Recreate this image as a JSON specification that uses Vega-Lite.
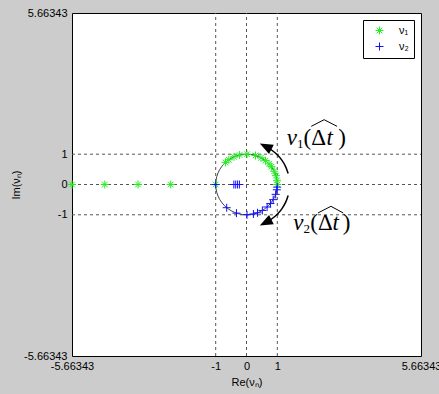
{
  "$schema": "https://vega.github.io/schema/vega-lite/v6.json",
  "width": 349,
  "height": 343,
  "autosize": {"type": "none"},
  "padding": {"left": 72, "top": 13, "right": 18, "bottom": 38},
  "background": "#cccccc",
  "config": {
    "view": {"fill": "white", "stroke": "black", "strokeWidth": 1},
    "font": "Liberation Sans"
  },
  "datasets": {
    "pts": [
      {"series": "ν₁", "x": -5.66343, "y": 0},
      {"series": "ν₁", "x": -4.6, "y": 0},
      {"series": "ν₁", "x": -3.52, "y": 0},
      {"series": "ν₁", "x": -2.46, "y": 0},
      {"series": "ν₁", "x": -1, "y": 0},
      {"series": "ν₁", "x": -0.682, "y": 0.731},
      {"series": "ν₁", "x": -0.574, "y": 0.819},
      {"series": "ν₁", "x": -0.407, "y": 0.914},
      {"series": "ν₁", "x": -0.225, "y": 0.974},
      {"series": "ν₁", "x": 0.017, "y": 1.0},
      {"series": "ν₁", "x": 0.292, "y": 0.956},
      {"series": "ν₁", "x": 0.469, "y": 0.883},
      {"series": "ν₁", "x": 0.616, "y": 0.788},
      {"series": "ν₁", "x": 0.731, "y": 0.682},
      {"series": "ν₁", "x": 0.809, "y": 0.588},
      {"series": "ν₁", "x": 0.899, "y": 0.438},
      {"series": "ν₁", "x": 0.956, "y": 0.292},
      {"series": "ν₁", "x": 0.990, "y": 0.139},
      {"series": "ν₁", "x": 1.0, "y": 0},
      {"series": "ν₂", "x": -1, "y": 0},
      {"series": "ν₂", "x": -0.41, "y": 0},
      {"series": "ν₂", "x": -0.35, "y": 0},
      {"series": "ν₂", "x": -0.29, "y": 0},
      {"series": "ν₂", "x": -0.23, "y": 0},
      {"series": "ν₂", "x": -0.643, "y": -0.766},
      {"series": "ν₂", "x": -0.326, "y": -0.946},
      {"series": "ν₂", "x": 0.017, "y": -1.0},
      {"series": "ν₂", "x": 0.225, "y": -0.974},
      {"series": "ν₂", "x": 0.358, "y": -0.934},
      {"series": "ν₂", "x": 0.515, "y": -0.857},
      {"series": "ν₂", "x": 0.669, "y": -0.743},
      {"series": "ν₂", "x": 0.777, "y": -0.629},
      {"series": "ν₂", "x": 0.866, "y": -0.5},
      {"series": "ν₂", "x": 0.946, "y": -0.326},
      {"series": "ν₂", "x": 0.985, "y": -0.174},
      {"series": "ν₂", "x": 0.996, "y": -0.087}
    ],
    "circle": [
      {"i": 0, "x": 1, "y": 0},
      {"i": 1, "x": 0.966, "y": 0.259},
      {"i": 2, "x": 0.866, "y": 0.5},
      {"i": 3, "x": 0.707, "y": 0.707},
      {"i": 4, "x": 0.5, "y": 0.866},
      {"i": 5, "x": 0.259, "y": 0.966},
      {"i": 6, "x": 0, "y": 1},
      {"i": 7, "x": -0.259, "y": 0.966},
      {"i": 8, "x": -0.5, "y": 0.866},
      {"i": 9, "x": -0.707, "y": 0.707},
      {"i": 10, "x": -0.866, "y": 0.5},
      {"i": 11, "x": -0.966, "y": 0.259},
      {"i": 12, "x": -1, "y": 0},
      {"i": 13, "x": -0.966, "y": -0.259},
      {"i": 14, "x": -0.866, "y": -0.5},
      {"i": 15, "x": -0.707, "y": -0.707},
      {"i": 16, "x": -0.5, "y": -0.866},
      {"i": 17, "x": -0.259, "y": -0.966},
      {"i": 18, "x": 0, "y": -1},
      {"i": 19, "x": 0.259, "y": -0.966},
      {"i": 20, "x": 0.5, "y": -0.866},
      {"i": 21, "x": 0.707, "y": -0.707},
      {"i": 22, "x": 0.866, "y": -0.5},
      {"i": 23, "x": 0.966, "y": -0.259}
    ],
    "vguides": [
      {"x": -1, "y": -5.66343, "y2": 5.66343},
      {"x": 0, "y": -5.66343, "y2": 5.66343},
      {"x": 1, "y": -5.66343, "y2": 5.66343}
    ],
    "hguides": [
      {"x": -5.66343, "x2": 5.66343, "y": -1},
      {"x": -5.66343, "x2": 5.66343, "y": 0},
      {"x": -5.66343, "x2": 5.66343, "y": 1}
    ],
    "arcs": [
      {"id": "up", "i": 0, "x": 1.352, "y": 0.362},
      {"id": "up", "i": 1, "x": 1.269, "y": 0.592},
      {"id": "up", "i": 2, "x": 1.147, "y": 0.803},
      {"id": "up", "i": 3, "x": 0.990, "y": 0.990},
      {"id": "up", "i": 4, "x": 0.803, "y": 1.147},
      {"id": "up", "i": 5, "x": 0.720, "y": 1.200},
      {"id": "down", "i": 0, "x": 1.352, "y": -0.362},
      {"id": "down", "i": 1, "x": 1.269, "y": -0.592},
      {"id": "down", "i": 2, "x": 1.147, "y": -0.803},
      {"id": "down", "i": 3, "x": 0.990, "y": -0.990},
      {"id": "down", "i": 4, "x": 0.803, "y": -1.147},
      {"id": "down", "i": 5, "x": 0.720, "y": -1.200}
    ],
    "heads": [
      {"x": 0.62, "y": 1.26, "angle": 207},
      {"x": 0.62, "y": -1.26, "angle": 153}
    ],
    "italicText": [
      {"x": 1.305, "y": 1.295, "s": "ν", "size": 23},
      {"x": 2.6, "y": 1.295, "s": "t", "size": 23},
      {"x": 1.52, "y": -1.49, "s": "ν", "size": 23},
      {"x": 2.79, "y": -1.49, "s": "t", "size": 23}
    ],
    "uprightText": [
      {"x": 1.64, "y": 1.19, "s": "1", "size": 13},
      {"x": 1.85, "y": 1.295, "s": "(Δ", "size": 23},
      {"x": 2.98, "y": 1.295, "s": ")", "size": 23},
      {"x": 1.85, "y": -1.59, "s": "2", "size": 13},
      {"x": 2.07, "y": -1.49, "s": "(Δ", "size": 23},
      {"x": 3.12, "y": -1.49, "s": ")", "size": 23}
    ],
    "hats": [
      {"id": "a", "i": 0, "x": 2.1, "y": 1.92},
      {"id": "a", "i": 1, "x": 2.52, "y": 2.14},
      {"id": "a", "i": 2, "x": 2.94, "y": 1.92},
      {"id": "b", "i": 0, "x": 2.32, "y": -0.94},
      {"id": "b", "i": 1, "x": 2.74, "y": -0.72},
      {"id": "b", "i": 2, "x": 3.14, "y": -0.94}
    ]
  },
  "encoding": {
    "x": {
      "field": "x",
      "type": "quantitative",
      "scale": {"domain": [-5.66343, 5.66343], "nice": false, "zero": false},
      "axis": {
        "values": [-5.66343, -1, 0, 1, 5.66343],
        "labelExpr": "toString(datum.value)",
        "title": "Re(νₙ)",
        "grid": false,
        "ticks": false,
        "domain": false,
        "labelFlush": false,
        "labelOverlap": false,
        "labelFontSize": 11,
        "labelColor": "black",
        "labelPadding": 4,
        "titleFontSize": 11,
        "titleFontWeight": "normal",
        "titleColor": "black",
        "titlePadding": 5
      }
    },
    "y": {
      "field": "y",
      "type": "quantitative",
      "scale": {"domain": [-5.66343, 5.66343], "nice": false, "zero": false},
      "axis": {
        "values": [-5.66343, -1, 0, 1, 5.66343],
        "labelExpr": "toString(datum.value)",
        "title": "Im(νₙ)",
        "grid": false,
        "ticks": false,
        "domain": false,
        "labelFlush": false,
        "labelOverlap": false,
        "labelFontSize": 11,
        "labelColor": "black",
        "labelPadding": 5,
        "titleFontSize": 11,
        "titleFontWeight": "normal",
        "titleColor": "black",
        "titlePadding": 2
      }
    }
  },
  "layer": [
    {
      "data": {"name": "vguides"},
      "mark": {"type": "rule", "color": "#555555", "strokeWidth": 1, "strokeDash": [3, 3]},
      "encoding": {"y2": {"field": "y2"}}
    },
    {
      "data": {"name": "hguides"},
      "mark": {"type": "rule", "color": "#555555", "strokeWidth": 1, "strokeDash": [3, 3]},
      "encoding": {"x2": {"field": "x2"}}
    },
    {
      "data": {"name": "circle"},
      "mark": {"type": "line", "interpolate": "cardinal-closed", "color": "#444444", "strokeWidth": 1},
      "encoding": {"order": {"field": "i", "type": "quantitative"}}
    },
    {
      "data": {"name": "pts"},
      "mark": {"type": "point", "filled": false, "strokeWidth": 1, "size": 64, "opacity": 1},
      "encoding": {
        "color": {
          "field": "series",
          "type": "nominal",
          "scale": {"domain": ["ν₁", "ν₂"], "range": ["#22ee22", "#1010ff"]},
          "legend": {
            "title": null,
            "orient": "top-right",
            "offset": 7,
            "strokeColor": "black",
            "fillColor": "white",
            "padding": 5,
            "symbolOffset": 6,
            "labelOffset": 14,
            "rowPadding": 3,
            "labelFontSize": 11,
            "labelColor": "black",
            "symbolStrokeWidth": 1,
            "symbolSize": 64
          }
        },
        "shape": {
          "field": "series",
          "type": "nominal",
          "scale": {
            "domain": ["ν₁", "ν₂"],
            "range": [
              "M-1,0L1,0M0,-1L0,1M-0.7,-0.7L0.7,0.7M-0.7,0.7L0.7,-0.7",
              "M-1,0L1,0M0,-1L0,1"
            ]
          },
          "legend": {"title": null}
        }
      }
    },
    {
      "data": {"name": "arcs"},
      "mark": {"type": "line", "interpolate": "cardinal", "color": "black", "strokeWidth": 1.5},
      "encoding": {
        "detail": {"field": "id"},
        "order": {"field": "i", "type": "quantitative"}
      }
    },
    {
      "data": {"name": "heads"},
      "mark": {"type": "point", "shape": "M1,0L-1,-0.8L-1,0.8Z", "filled": true, "color": "black", "size": 170, "opacity": 1},
      "encoding": {"angle": {"field": "angle", "type": "quantitative", "scale": null}}
    },
    {
      "data": {"name": "italicText"},
      "mark": {"type": "text", "align": "left", "baseline": "alphabetic", "font": "Liberation Serif", "fontStyle": "italic", "color": "black"},
      "encoding": {
        "text": {"field": "s"},
        "size": {"field": "size", "type": "quantitative", "scale": null}
      }
    },
    {
      "data": {"name": "uprightText"},
      "mark": {"type": "text", "align": "left", "baseline": "alphabetic", "font": "Liberation Serif", "color": "black"},
      "encoding": {
        "text": {"field": "s"},
        "size": {"field": "size", "type": "quantitative", "scale": null}
      }
    },
    {
      "data": {"name": "hats"},
      "mark": {"type": "line", "color": "black", "strokeWidth": 1},
      "encoding": {
        "detail": {"field": "id"},
        "order": {"field": "i", "type": "quantitative"}
      }
    }
  ]
}
